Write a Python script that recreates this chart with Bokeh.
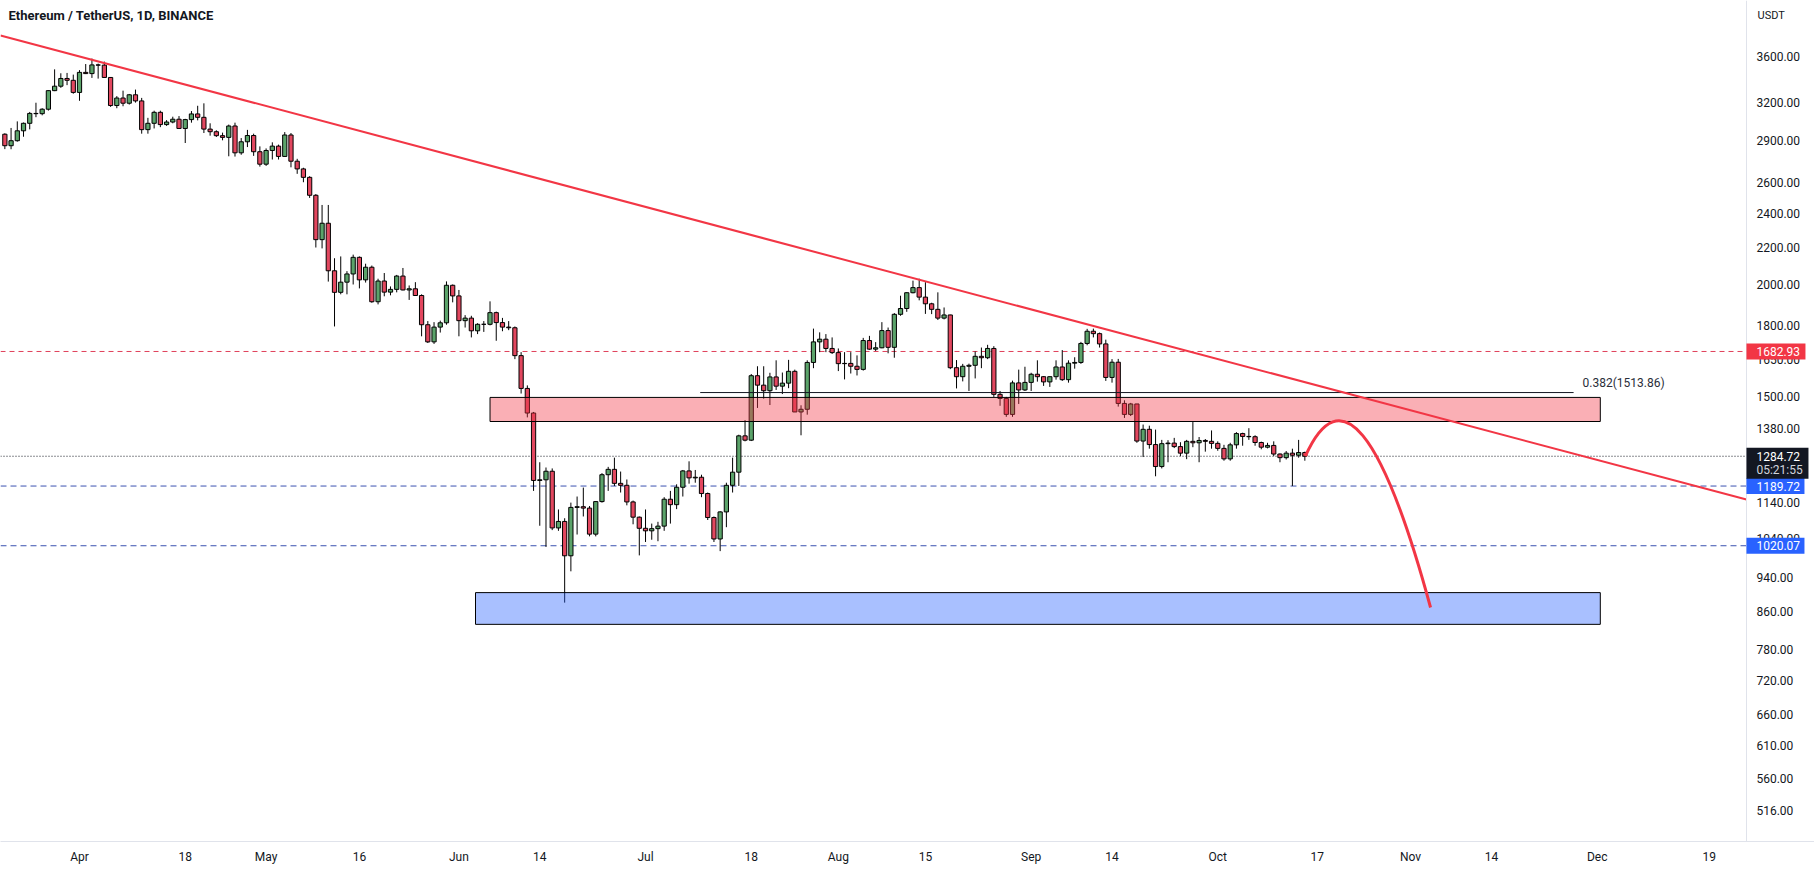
import math
import pandas as pd
from bokeh.plotting import figure
from bokeh.models import Range1d, FixedTicker, Label, ColumnDataSource, NumeralTickFormatter
from bokeh.core.properties import value
from bokeh.embed import file_html
from bokeh.resources import INLINE

# ---------------- data (ETH/USDT daily) ----------------
first_date = "2022-03-20"

open_mar = [2946, 2860, 2897, 2972, 3030, 3108, 3106, 3142, 3296, 3334, 3401, 3385]
high_mar = [2953, 2994, 3045, 3036, 3120, 3195, 3150, 3298, 3482, 3447, 3450, 3435]
low_mar = [2835, 2834, 2890, 2927, 2983, 3078, 3093, 3131, 3292, 3320, 3343, 3270]
close_mar = [2860, 2897, 2972, 3030, 3108, 3106, 3142, 3296, 3334, 3401, 3385, 3281]

open_apr = [3281, 3455, 3444, 3522, 3520, 3410, 3172, 3234, 3191, 3261, 3210, 2981, 3030, 3117, 3020,
            3040, 3062, 2990, 3059, 3104, 3077, 2985, 2965, 2935, 2922, 3009, 2808, 2889, 2936, 2816]
high_apr = [3475, 3530, 3580, 3534, 3552, 3412, 3250, 3296, 3268, 3305, 3235, 3073, 3130, 3130, 3055,
            3082, 3087, 3065, 3127, 3170, 3190, 3030, 2976, 2958, 3020, 3035, 2917, 2979, 2950, 2855]
low_apr = [3211, 3440, 3406, 3400, 3407, 3161, 3150, 3166, 3180, 3196, 2950, 2950, 2990, 3000, 3010,
           3030, 2990, 2880, 3035, 3053, 2955, 2935, 2925, 2900, 2783, 2781, 2794, 2850, 2786, 2710]
close_apr = [3455, 3444, 3522, 3520, 3410, 3172, 3234, 3191, 3261, 3210, 2981, 3030, 3117, 3020, 3040,
             3062, 2990, 3059, 3104, 3077, 2985, 2965, 2935, 2922, 3009, 2808, 2889, 2936, 2816, 2727]

open_may = [2727, 2825, 2857, 2782, 2940, 2748, 2694, 2636, 2517, 2245, 2342, 2072, 1960, 2012, 2055,
            2145, 2024, 2091, 1913, 2018, 1961, 1975, 2044, 1972, 1978, 1944, 1803, 1725, 1792, 1812, 1996]
high_may = [2840, 2885, 2868, 2962, 2955, 2765, 2702, 2644, 2525, 2455, 2455, 2140, 2150, 2070, 2160,
            2150, 2110, 2100, 2030, 2060, 1990, 2050, 2087, 1995, 2012, 1950, 1820, 1815, 1822, 2016, 2000]
low_may = [2715, 2760, 2760, 2780, 2705, 2660, 2603, 2500, 2200, 2195, 2015, 1795, 1950, 1950, 2000,
           1980, 2010, 1908, 1900, 1940, 1945, 1960, 1970, 1922, 1942, 1750, 1720, 1716, 1767, 1803, 1910]
close_may = [2825, 2857, 2782, 2940, 2748, 2694, 2636, 2517, 2245, 2342, 2072, 1960, 2012, 2055, 2145,
             2024, 2091, 1913, 2018, 1961, 1975, 2044, 1972, 1978, 1944, 1803, 1725, 1792, 1812, 1996, 1942]

open_jun = [1942, 1822, 1834, 1775, 1805, 1805, 1860, 1813, 1792, 1789, 1665, 1530, 1436, 1207, 1209,
            1236, 1068, 1086, 994, 1126, 1128, 1124, 1051, 1143, 1225, 1242, 1198, 1192, 1142, 1098]
high_jun = [1972, 1848, 1845, 1810, 1820, 1915, 1865, 1835, 1820, 1795, 1680, 1542, 1440, 1265, 1248,
            1245, 1120, 1095, 1140, 1158, 1185, 1130, 1144, 1230, 1250, 1280, 1235, 1210, 1146, 1100]
low_jun = [1750, 1790, 1745, 1760, 1770, 1800, 1730, 1773, 1778, 1650, 1510, 1420, 1175, 1074, 1017,
           1062, 1060, 881, 955, 1050, 1100, 1045, 1045, 1140, 1175, 1190, 1170, 1132, 1078, 995]
close_jun = [1822, 1834, 1775, 1805, 1805, 1860, 1813, 1792, 1789, 1665, 1530, 1436, 1207, 1209, 1236,
             1068, 1086, 994, 1126, 1128, 1124, 1051, 1143, 1225, 1242, 1198, 1192, 1142, 1098, 1067]

open_jul = [1067, 1060, 1066, 1073, 1150, 1134, 1186, 1237, 1215, 1217, 1167, 1097, 1038, 1113, 1192,
            1233, 1354, 1339, 1581, 1543, 1521, 1576, 1539, 1551, 1599, 1440, 1450, 1636, 1725, 1737, 1696]
high_jul = [1120, 1080, 1085, 1156, 1175, 1195, 1240, 1268, 1240, 1225, 1170, 1100, 1115, 1200, 1280,
            1358, 1410, 1588, 1620, 1620, 1593, 1645, 1594, 1647, 1606, 1465, 1645, 1785, 1768, 1760, 1745]
low_jul = [1030, 1036, 1032, 1060, 1080, 1121, 1158, 1197, 1200, 1156, 1090, 1030, 1006, 1070, 1170,
           1190, 1335, 1336, 1455, 1490, 1466, 1524, 1508, 1531, 1440, 1356, 1430, 1612, 1680, 1680, 1672]
close_jul = [1060, 1066, 1073, 1150, 1134, 1186, 1237, 1215, 1217, 1167, 1097, 1038, 1113, 1192, 1233,
             1354, 1339, 1581, 1543, 1521, 1576, 1539, 1551, 1599, 1440, 1450, 1636, 1725, 1737, 1696, 1678]

open_aug = [1678, 1631, 1632, 1620, 1607, 1731, 1693, 1699, 1776, 1701, 1852, 1880, 1958, 1984, 1936,
            1903, 1876, 1834, 1849, 1614, 1577, 1620, 1624, 1662, 1656, 1696, 1507, 1491, 1431, 1552, 1524]
high_aug = [1696, 1680, 1680, 1666, 1743, 1752, 1724, 1815, 1790, 1858, 1943, 1960, 2020, 2030, 2012,
            1908, 1960, 1885, 1850, 1646, 1630, 1631, 1683, 1700, 1712, 1706, 1520, 1497, 1561, 1606, 1618]
low_aug = [1600, 1566, 1590, 1582, 1602, 1690, 1685, 1697, 1675, 1656, 1845, 1864, 1955, 1920, 1854,
           1853, 1825, 1828, 1608, 1530, 1558, 1520, 1570, 1612, 1650, 1497, 1463, 1422, 1422, 1470, 1520]
close_aug = [1631, 1632, 1620, 1607, 1731, 1693, 1699, 1776, 1701, 1852, 1880, 1958, 1984, 1936, 1903,
             1876, 1834, 1849, 1614, 1577, 1620, 1624, 1662, 1656, 1696, 1507, 1491, 1431, 1552, 1524, 1554]

open_sep = [1554, 1587, 1577, 1556, 1577, 1617, 1565, 1633, 1636, 1718, 1773, 1762, 1716, 1574, 1637,
            1472, 1431, 1470, 1336, 1377, 1324, 1251, 1327, 1329, 1317, 1295, 1335, 1330, 1338, 1335]
high_sep = [1593, 1645, 1579, 1578, 1645, 1689, 1645, 1658, 1725, 1784, 1785, 1767, 1735, 1650, 1651,
            1484, 1474, 1470, 1394, 1390, 1376, 1340, 1339, 1347, 1332, 1340, 1403, 1350, 1343, 1373]
low_sep = [1520, 1557, 1540, 1536, 1565, 1560, 1553, 1610, 1630, 1710, 1745, 1700, 1560, 1553, 1460,
           1418, 1425, 1330, 1282, 1310, 1220, 1245, 1265, 1312, 1285, 1275, 1315, 1265, 1300, 1310]
close_sep = [1587, 1577, 1556, 1577, 1617, 1565, 1633, 1636, 1718, 1773, 1762, 1716, 1574, 1637, 1472,
             1431, 1470, 1336, 1377, 1324, 1251, 1327, 1329, 1317, 1295, 1335, 1330, 1338, 1335, 1328]

open_oct = [1328, 1311, 1276, 1323, 1362, 1352, 1351, 1331, 1315, 1321, 1292, 1280, 1295, 1288, 1297]
high_oct = [1335, 1323, 1330, 1367, 1365, 1381, 1356, 1334, 1330, 1335, 1294, 1302, 1310, 1340, 1300]
low_oct = [1303, 1270, 1270, 1310, 1320, 1340, 1320, 1308, 1311, 1285, 1265, 1274, 1190, 1280, 1270]
close_oct = [1311, 1276, 1323, 1362, 1352, 1351, 1331, 1315, 1321, 1292, 1280, 1295, 1288, 1297, 1284.72]

# price axis ticks and date axis ticks
price_ticks = [3600, 3200, 2900, 2600, 2400, 2200, 2000, 1800, 1650, 1500, 1380, 1260, 1140,
               1040, 940, 860, 780, 720, 660, 610, 560, 516]
date_ticks = ["2022-04-01", "2022-04-18", "2022-05-01", "2022-05-16", "2022-06-01", "2022-06-14",
              "2022-07-01", "2022-07-18", "2022-08-01", "2022-08-15", "2022-09-01", "2022-09-14",
              "2022-10-01", "2022-10-17", "2022-11-01", "2022-11-14", "2022-12-01", "2022-12-19"]
date_tick_labels = ["Apr", "18", "May", "16", "Jun", "14", "Jul", "18", "Aug", "15", "Sep", "14",
                    "Oct", "17", "Nov", "14", "Dec", "19"]

# view and drawings
view_start, chart_end, view_end = "2022-03-19 07:12", "2022-12-25 00:00", "2023-01-04 22:30"
price_lo, price_hi = 476.0, 4158.0
trend_dates = ["2022-03-19 07:12", "2022-12-25 00:00"]
trend_prices = [3800, 1149]
resist_zone = dict(left="2022-06-06 00:00", right="2022-12-01 12:00", top=1495, bottom=1405)
support_zone = dict(left="2022-06-03 16:00", right="2022-12-01 12:00", top=904, bottom=833)
fib_dates = ["2022-07-09 19:00", "2022-11-27 05:00"]
fib_level = 1513.86
fib_text = "0.382(1513.86)"
proj_start = ("2022-10-15 02:00", 1284.72)
proj_ctrl = ("2022-10-23 12:00", 1736)
proj_end = ("2022-11-04 05:00", 870)
level_red = 1682.93
level_blue = [1189.72, 1020.07]
last_price = 1284.72
countdown = "05:21:55"
title = "Ethereum / TetherUS, 1D, BINANCE"

# ---------------- assemble ----------------
opens = open_mar + open_apr + open_may + open_jun + open_jul + open_aug + open_sep + open_oct
highs = high_mar + high_apr + high_may + high_jun + high_jul + high_aug + high_sep + high_oct
lows = low_mar + low_apr + low_may + low_jun + low_jul + low_aug + low_sep + low_oct
closes = close_mar + close_apr + close_may + close_jun + close_jul + close_aug + close_sep + close_oct
assert len(opens) == len(highs) == len(lows) == len(closes) == 210

REF = pd.Timestamp("2022-04-01")


def day(d):
    return (pd.Timestamp(d) - REF) / pd.Timedelta(days=1)


dates = pd.date_range(first_date, periods=len(closes), freq="D")
xs = [day(d) for d in dates]
GREEN, RED = "#5ba36a", "#e2475f"
src = ColumnDataSource(dict(
    x=xs,
    top=[max(o, c) for o, c in zip(opens, closes)],
    bottom=[min(o, c) for o, c in zip(opens, closes)],
    high=[max(h, o, c) for h, o, c in zip(highs, opens, closes)],
    low=[min(l, o, c) for l, o, c in zip(lows, opens, closes)],
    color=[GREEN if c >= o else RED for o, c in zip(opens, closes)],
))

FONT = "Roboto"
TXT = "#131722"
W, FRAME_H = 1814, 841
x0, xb, x1 = day(view_start), day(chart_end), day(view_end)
PX_PER_DAY = W / (x1 - x0)
PX_PER_LN = FRAME_H / math.log(price_hi / price_lo)


def price_at_px(py):
    return price_hi * math.exp(-py / PX_PER_LN)


def shift_down(price, dy):
    return price * math.exp(-dy / PX_PER_LN)


p = figure(width=W, height=869, y_axis_type="log", y_axis_location="right",
           x_range=Range1d(x0, x1), y_range=Range1d(price_lo, price_hi),
           output_backend="svg", toolbar_location=None,
           min_border_left=0, min_border_top=0, min_border_right=0, min_border_bottom=28,
           background_fill_color="white", border_fill_color="white")
p.outline_line_color = None
p.grid.visible = False

# price axis: drawn at the chart's right edge, labels to its right
p.yaxis.fixed_location = xb
p.yaxis.ticker = FixedTicker(ticks=price_ticks)
p.yaxis.formatter = NumeralTickFormatter(format="0.00")
p.yaxis.minor_tick_line_color = None
p.yaxis.major_tick_line_color = None
p.yaxis.major_tick_out = 0
p.yaxis.major_label_standoff = 10
p.yaxis.axis_line_color = "#e0e3eb"
p.yaxis.major_label_text_font = FONT
p.yaxis.major_label_text_font_size = "12px"
p.yaxis.major_label_text_color = TXT

tick_days = [int(round(day(d))) for d in date_ticks]
p.xaxis.ticker = FixedTicker(ticks=tick_days)
p.xaxis.major_label_overrides = {d: lab for d, lab in zip(tick_days, date_tick_labels)}
p.xaxis.minor_tick_line_color = None
p.xaxis.major_tick_line_color = None
p.xaxis.major_tick_out = 0
p.xaxis.major_label_standoff = 8
p.xaxis.axis_line_color = "#e0e3eb"
p.xaxis.major_label_text_font = FONT
p.xaxis.major_label_text_font_size = "12px"
p.xaxis.major_label_text_color = TXT

# horizontal levels (stop at the price axis)
p.segment(x0=[x0], x1=[xb], y0=[level_red], y1=[level_red], line_color="#e0405a", line_width=1,
          line_dash="5 4")
p.segment(x0=[x0] * len(level_blue), x1=[xb] * len(level_blue), y0=level_blue, y1=level_blue,
          line_color="#3a52b0", line_width=1, line_dash="6 4")
p.segment(x0=[x0], x1=[xb], y0=[last_price], y1=[last_price], line_color=TXT, line_width=1,
          line_dash="1 2")

# candles
p.segment(x0="x", y0="low", x1="x", y1="high", line_color="black", line_width=1, source=src)
p.vbar(x="x", width=0.68, top="top", bottom="bottom", fill_color="color", line_color="black",
       line_width=1, source=src)

# zones
p.quad(left=[day(resist_zone["left"])], right=[day(resist_zone["right"])],
       top=[resist_zone["top"]], bottom=[resist_zone["bottom"]],
       fill_color="#f23645", fill_alpha=0.4, line_color="black", line_width=1)
p.quad(left=[day(support_zone["left"])], right=[day(support_zone["right"])],
       top=[support_zone["top"]], bottom=[support_zone["bottom"]],
       fill_color="#2962ff", fill_alpha=0.4, line_color="black", line_width=1)

# fib level
p.segment(x0=[day(fib_dates[0])], y0=[fib_level], x1=[day(fib_dates[1])], y1=[fib_level],
          line_color="#131722", line_width=1)
p.text(x=[day(fib_dates[1])], y=[fib_level], text=[fib_text], x_offset=9, y_offset=-10,
       text_font=value(FONT), text_font_size="12px", text_color="#2a2e39",
       text_baseline="middle", text_align="left")

# trend line and projection
p.line(x=[day(d) for d in trend_dates], y=trend_prices, line_color="#f23645", line_width=2)
p.quadratic(x0=[day(proj_start[0])], y0=[proj_start[1]], x1=[day(proj_end[0])], y1=[proj_end[1]],
            cx=[day(proj_ctrl[0])], cy=[proj_ctrl[1]], line_color="#f23645", line_width=3)

# title and axis unit
p.add_layout(Label(x=8, y=price_at_px(15), x_units="screen", text=title, text_font=FONT,
                   text_font_size="13px", text_font_style="bold", text_color=TXT,
                   text_baseline="middle", text_align="left"))
p.add_layout(Label(x=1757, y=price_at_px(15), x_units="screen", text="USDT", text_font=FONT,
                   text_font_size="11px", text_color=TXT, text_baseline="middle", text_align="left"))


# price tags on the price axis (drawn above the axis labels)
def tag_box(price, bg, w, h, dy=0):
    p.rect(x=[xb + w / 2 / PX_PER_DAY], y=[shift_down(price, dy)], width=w, height=h,
           width_units="screen", height_units="screen", fill_color=bg, line_color=None,
           level="overlay")


def tag_text(price, text, color="white", dy=0):
    p.text(x=[xb], y=[price], text=[text], x_offset=10, y_offset=dy, text_font=value(FONT),
           text_font_size="12px", text_color=color, text_baseline="middle", text_align="left",
           level="overlay")


tag_box(level_red, "#f23645", 59, 16)
tag_text(level_red, f"{level_red:.2f}")
for lv in level_blue:
    tag_box(lv, "#2962ff", 58, 16)
    tag_text(lv, f"{lv:.2f}")
tag_box(last_price, "#131722", 62, 31, dy=7)
tag_text(last_price, f"{last_price:.2f}")
tag_text(last_price, countdown, color="#d1d4dc", dy=14)

open("out.html", "w").write(file_html(p, INLINE))
